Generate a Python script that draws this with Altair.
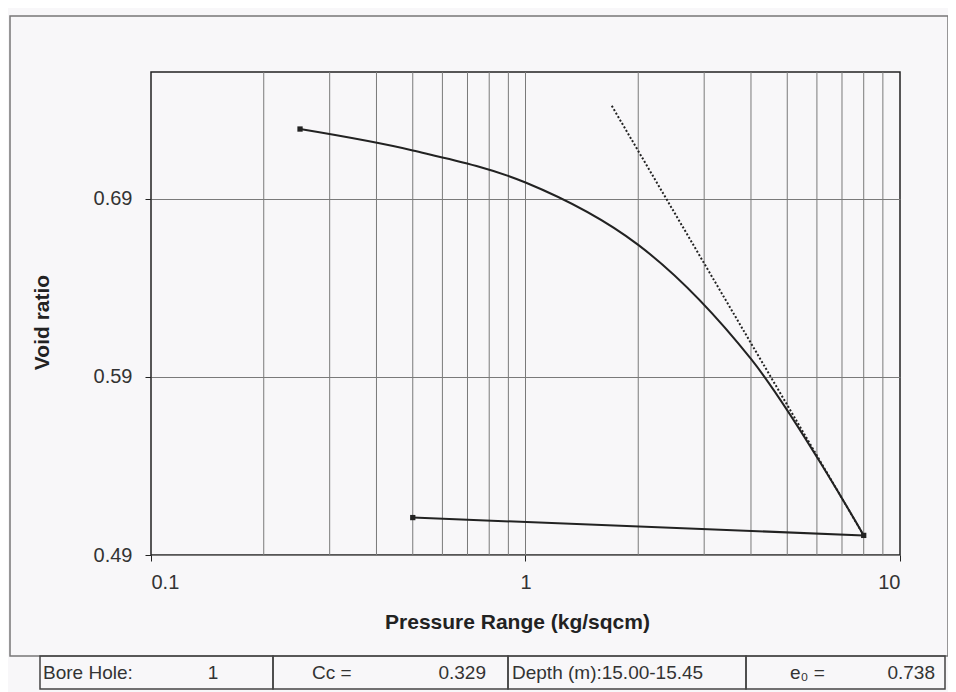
import altair as alt
import pandas as pd

# ---- data ----
load_p = [0.25, 0.5, 1, 2, 4, 8]
load_e = [0.729, 0.717, 0.699, 0.664, 0.600, 0.501]
unload_p = [8, 0.5]
unload_e = [0.501, 0.511]
cc_p = [1.70, 8]
cc_e = [0.742, 0.501]
marker_p = [0.25, 8, 0.5]
marker_e = [0.729, 0.501, 0.511]
grid_p = [0.2, 0.3, 0.4, 0.5, 0.6, 0.7, 0.8, 0.9, 1, 2, 3, 4, 5, 6, 7, 8, 9]
x_ticks = [0.1, 1, 10]
y_ticks = [0.49, 0.59, 0.69]
table_labels = ["Bore Hole:", "Cc =", "Depth (m):15.00-15.45", "e\u2080 ="]
table_values = ["1", "0.329", "", "0.738"]

FONT = "Liberation Sans"
INK = "#222222"
TXT = "#333333"

xscale = alt.Scale(type="log", domain=[0.1, 10], nice=False)
yscale = alt.Scale(domain=[0.49, 0.761], nice=False, zero=False)

load_df = pd.DataFrame({"p": load_p, "e": load_e, "o": range(len(load_p))})
unload_df = pd.DataFrame({"p": unload_p, "e": unload_e, "o": range(len(unload_p))})
cc_df = pd.DataFrame({"p": cc_p, "e": cc_e, "o": range(len(cc_p))})
mk_df = pd.DataFrame({"p": marker_p, "e": marker_e})
grid_df = pd.DataFrame({"p": grid_p})

xax = alt.Axis(values=x_ticks, format="~g", grid=False, domain=False,
               tickSize=6, tickColor=INK, labelPadding=11,
               labelFont=FONT, labelFontSize=20, labelColor=TXT,
               title="Pressure Range (kg/sqcm)", titleFont=FONT, titleFontSize=21,
               titleFontWeight="bold", titleColor=INK, titleX=366, titleY=67,
               titleBaseline="middle", titleAlign="center")
yax = alt.Axis(values=y_ticks, format=".2f", grid=True, gridColor="#7a7a7a",
               gridWidth=1, domain=False, tickSize=6, tickColor=INK,
               labelPadding=13, labelFont=FONT, labelFontSize=20,
               labelColor=TXT,
               title="Void ratio", titleFont=FONT, titleFontSize=21,
               titleFontWeight="bold", titleColor=INK, titleX=-109, titleY=250,
               titleAngle=270, titleBaseline="middle", titleAlign="center")

X = alt.X("p:Q", scale=xscale, axis=xax)
Y = alt.Y("e:Q", scale=yscale, axis=yax)

grid = alt.Chart(grid_df).mark_rule(color="#7a7a7a", strokeWidth=1).encode(
    x=alt.X("p:Q", scale=xscale, axis=xax))

load_line = alt.Chart(load_df).mark_line(
    color=INK, strokeWidth=2, interpolate="catmull-rom").encode(x=X, y=Y, order="o:Q")
unload_line = alt.Chart(unload_df).mark_line(
    color=INK, strokeWidth=2).encode(x=X, y=Y, order="o:Q")
cc_line = alt.Chart(cc_df).mark_line(
    color=INK, strokeWidth=2, strokeDash=[2, 2]).encode(x=X, y=Y, order="o:Q")
markers = alt.Chart(mk_df).mark_square(
    color=INK, size=28, opacity=1).encode(x=X, y=Y)

# ---- decorative frame and the info table below the chart ----
one = pd.DataFrame({"k": [0]})
frame = alt.Chart(one).mark_rect(fill=None, stroke="#777777", strokeWidth=1.5).encode(
    x=alt.value(-141), x2=alt.value(797), y=alt.value(-56), y2=alt.value(584))

cell_x = [-111, 122, 357, 595, 794]
table_layers = []
for i in range(4):
    table_layers.append(
        alt.Chart(one).mark_rect(fill=None, stroke="#444444", strokeWidth=1.5).encode(
            x=alt.value(cell_x[i]), x2=alt.value(cell_x[i + 1]),
            y=alt.value(584), y2=alt.value(617)))

label_x = [-108, 161, 361, 639]
value_x = [62, 335, 0, 784]
for i in range(4):
    table_layers.append(
        alt.Chart(one).mark_text(align="left", baseline="middle", font=FONT,
                                 fontSize=19, color=TXT,
                                 text=table_labels[i]).encode(
            x=alt.value(label_x[i]), y=alt.value(601)))
    if table_values[i]:
        table_layers.append(
            alt.Chart(one).mark_text(align="center" if i == 0 else "right",
                                     baseline="middle", font=FONT,
                                     fontSize=19, color=TXT,
                                     text=table_values[i]).encode(
                x=alt.value(value_x[i]), y=alt.value(601)))

chart = alt.layer(grid, frame, load_line, unload_line, cc_line, markers,
                  *table_layers).properties(
    width=749, height=483, autosize="none",
    padding={"left": 143, "top": 64, "right": 48, "bottom": 137},
    background="#f8f7f9",
).configure_view(stroke=INK, strokeWidth=1.5)

chart.save("out.html", embed_options={"renderer": "svg", "actions": False})
